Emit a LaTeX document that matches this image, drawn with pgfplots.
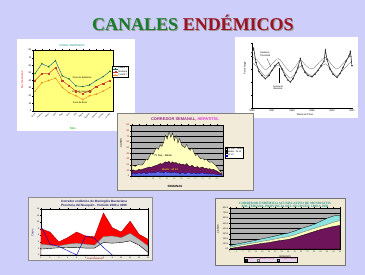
\documentclass[border=0pt]{standalone}
\usepackage{pgfplots}
\pgfplotsset{compat=1.18}
\usepackage{fontspec}
\setmainfont{Liberation Sans}
\newfontfamily\titlefont{Liberation Serif}
\definecolor{bg}{RGB}{206,206,250}
\definecolor{tgreen}{RGB}{25,125,45}
\definecolor{tred}{RGB}{155,20,35}
\definecolor{yel1}{RGB}{255,255,125}
\definecolor{q3}{RGB}{20,90,150}
\definecolor{med}{RGB}{200,60,50}
\definecolor{q1}{RGB}{235,140,30}
\definecolor{beige}{RGB}{242,235,218}
\definecolor{beige2}{RGB}{240,233,212}
\definecolor{p4bg}{RGB}{238,235,228}
\definecolor{plotgray}{RGB}{176,176,176}
\definecolor{pyel}{RGB}{255,255,190}
\definecolor{ppur}{RGB}{110,20,90}
\definecolor{pblue}{RGB}{90,110,225}
\definecolor{pcyan}{RGB}{140,225,225}
\definecolor{navy}{RGB}{30,30,110}
\definecolor{corpur}{RGB}{150,40,140}
\definecolor{hepmag}{RGB}{220,50,220}
\definecolor{tealt}{RGB}{30,150,150}
\newcommand{\fs}[1]{\fontsize{#1}{#1}\selectfont}
\pgfplotsset{mini/.style={scale only axis, anchor=south west,
  /pgf/number format/assume math mode=true,
  tick label style={font=\fs{2.4}, inner sep=0.6pt}, major tick length=1pt,
  every tick/.style={line width=0.2pt, black},
  axis line style={line width=0.3pt},
  tick align=outside}}
\begin{document}
\begin{tikzpicture}
\useasboundingbox (0,0) rectangle (365pt,275pt);
\fill[bg] (0,0) rectangle (365pt,275pt);
% title
\node[font=\titlefont\bfseries\fs{18}, text=black!40] at (193.9pt,251.1pt) {CANALES ENDÉMICOS};
\node[font=\titlefont\bfseries\fs{18}] at (193pt,252pt) {\textcolor{tgreen}{CANALES} \textcolor{tred}{ENDÉMICOS}};

% ---------------- Panel 1
\fill[white] (17pt,144pt) rectangle (135pt,236pt);
\begin{axis}[mini, at={(33pt,164pt)}, width=80pt, height=61pt,
  xmin=0.7, xmax=12.45, ymin=0, ymax=80, ytick={0,10,...,80},
  xtick={1,...,12},
  xticklabels={Enero,Febrero,Marzo,Abril,Mayo,Junio,Julio,Agosto,Septiem.,Octubre,Noviem.,Diciem.},
  x tick label style={rotate=45, anchor=north east, font=\fs{1.9}, inner sep=0.3pt},
  axis background/.style={fill=yel1},
  legend style={at={(0.99,0.73)}, anchor=north west, font=\fs{2.3}, inner sep=0.4pt, row sep=-0.6pt, line width=0.2pt, nodes={inner sep=0.3pt}},
  legend cell align=left,
  legend image code/.code={\draw[mark repeat=2,mark phase=2,#1] plot coordinates {(0pt,0pt) (2.5pt,0pt) (5pt,0pt)};},
  every axis plot/.append style={line width=0.45pt, mark size=0.6pt}]
\addplot[q3, mark=triangle*, mark options={fill=green!70!black, draw=green!50!black}] coordinates {(1,49)(2,62)(3,58)(4,66)(5,46)(6,42)(7,33)(8,32)(9,34)(10,40)(11,45)(12,52)};
\addplot[med, mark=square*, mark options={fill=orange, draw=med}] coordinates {(1,40)(2,49)(3,49)(4,57)(5,40)(6,33)(7,26)(8,23)(9,26)(10,32)(11,36)(12,40)};
\addplot[q1, mark=*, mark options={fill=yellow, draw=q1}] coordinates {(1,26)(2,37)(3,40)(4,43)(5,31)(6,24)(7,20)(8,15)(9,20)(10,22)(11,26)(12,31)};
\legend{Cuartil 3,Mediana,Cuartil 1}
\node[font=\fs{2.3}] at (axis cs:7.9,43) {Zona de Epidemia};
\node[font=\fs{2.3}] at (axis cs:7.9,25) {Zona de Seguridad};
\node[font=\fs{2.3}] at (axis cs:7.6,10.5) {Zona de Éxito};
\end{axis}
\node[font=\fs{2.8}, text=red, rotate=90] at (22pt,195pt) {No. de Casos};
\node[font=\fs{3}, text=green!70!black] at (73pt,147pt) {Mes};
\node[font=\fs{2.8}, text=tealt] at (72pt,230pt) {CANAL ENDÉMICO};

% ---------------- Panel 2
\fill[white] (235pt,157pt) rectangle (358pt,238pt);
\begin{axis}[mini, at={(252pt,167pt)}, width=100pt, height=65pt,
  xmin=0, xmax=5, ymin=0, ymax=10,
  axis x line*=bottom, axis y line*=left,
  ytick={0,2,...,10}, yticklabels={},
  xtick={0,...,5}, xticklabels={1996,1997,1998,1999,2000,2001},
  minor x tick num=3, minor tick length=0.7pt]
\addplot[black!55, line width=0.3pt, smooth] coordinates {(0,8.0)(0.3,7.2)(0.67,5.9)(1.0,6.8)(1.33,7.6)(1.65,6.4)(1.92,5.6)(2.2,6.5)(2.42,7.4)(2.7,6.5)(3.0,6.0)(3.3,6.8)(3.67,7.8)(3.95,6.8)(4.25,6.0)(4.6,7.0)(4.92,8.0)(5,7.8)};
\addplot[black!55, line width=0.3pt, smooth] coordinates {(0,7.0)(0.3,6.2)(0.67,4.9)(1.0,5.8)(1.33,6.6)(1.65,5.4)(1.92,4.6)(2.2,5.5)(2.42,6.4)(2.7,5.5)(3.0,5.0)(3.3,5.8)(3.67,6.8)(3.95,5.8)(4.25,5.0)(4.6,6.0)(4.92,7.0)(5,6.8)};
\addplot[black!80, line width=0.6pt, mark=*, mark size=0.35pt] coordinates {(0,8.5)(0.08,9.2)(0.2,7.0)(0.35,5.6)(0.5,5.0)(0.67,4.5)(0.85,5.0)(1.0,5.8)(1.15,6.5)(1.33,7.0)(1.5,6.0)(1.65,5.0)(1.8,4.3)(1.92,4.0)(2.05,4.5)(2.2,5.5)(2.3,6.3)(2.42,7.6)(2.5,6.5)(2.65,5.5)(2.8,5.0)(3.0,4.8)(3.15,5.2)(3.3,5.8)(3.45,6.5)(3.6,7.2)(3.67,8.9)(3.75,7.5)(3.9,6.0)(4.05,5.2)(4.25,4.7)(4.4,5.3)(4.55,6.2)(4.7,7.2)(4.85,8.0)(4.92,8.7)(5,6.5)};
\draw[line width=0.2pt] (axis cs:0.75,7.6) -- (axis cs:0.95,6.3);
\node[font=\fs{2.3}, align=center] at (axis cs:0.65,8.3) {Epidemic\\Threshold};
\draw[line width=0.2pt] (axis cs:1.35,3.8) -- (axis cs:1.35,6.2);
\node[font=\fs{2.3}, align=center] at (axis cs:1.3,3.1) {Seasonal\\Baseline};
\end{axis}
\node[font=\fs{2.4}, rotate=90] at (245pt,207pt) {Percentage};
\node[font=\fs{2.4}] at (305pt,160pt) {Week and Year};

% ---------------- Panel 3
\fill[beige, draw=black!50, line width=0.4pt] (117pt,85pt) rectangle (253pt,162pt);
\begin{axis}[mini, at={(131pt,99pt)}, width=92pt, height=51pt,
  xmin=0.5, xmax=52.5, ymin=0, ymax=90, ytick={0,10,...,90},
  ymajorgrids, grid style={black, line width=0.25pt},
  axis background/.style={fill=plotgray},
  y tick label style={text=red!80!black},
  xtick={1,5,...,49}, x tick label style={text=green!50!black, font=\fs{2}},
  legend style={at={(1.02,0.57)}, anchor=north west, font=\fs{2.2}, inner sep=0.4pt, row sep=-0.6pt, line width=0.2pt, nodes={inner sep=0.3pt}, fill=white},
  legend cell align=left,
  legend image code/.code={\draw[#1] (0pt,-0.8pt) rectangle (2pt,0.8pt);}]
\addplot[fill=pyel, draw=black, line width=0.25pt] coordinates {(1,20)(2,18)(3,17)(4,19)(5,21)(6,19)(7,20)(8,24)(9,30)(10,28)(11,35)(12,40)(13,38)(14,45)(15,50)(16,47)(17,55)(18,52)(19,60)(20,72)(21,65)(22,78)(23,68)(24,76)(25,62)(26,72)(27,58)(28,66)(29,55)(30,52)(31,50)(32,56)(33,48)(34,45)(35,50)(36,42)(37,36)(38,38)(39,33)(40,30)(41,32)(42,28)(43,30)(44,26)(45,24)(46,25)(47,22)(48,20)(49,16)(50,12)(51,8)(52,5)} \closedcycle;
\addplot[fill=ppur, draw=black, line width=0.25pt] coordinates {(1,10)(2,11)(3,9)(4,10)(5,12)(6,11)(7,12)(8,13)(9,14)(10,15)(11,16)(12,15)(13,17)(14,18)(15,19)(16,20)(17,22)(18,21)(19,23)(20,25)(21,24)(22,26)(23,22)(24,25)(25,23)(26,24)(27,21)(28,22)(29,20)(30,21)(31,19)(32,22)(33,18)(34,17)(35,19)(36,16)(37,15)(38,17)(39,14)(40,15)(41,16)(42,13)(43,14)(44,12)(45,13)(46,11)(47,12)(48,10)(49,9)(50,7)(51,5)(52,4)} \closedcycle;
\addplot[fill=pblue, draw=blue!60!black, line width=0.25pt] coordinates {(1,4)(2,5)(3,3)(4,4)(5,6)(6,4)(7,5)(8,6)(9,4)(10,5)(11,7)(12,5)(13,6)(14,5)(15,7)(16,8)(17,6)(18,7)(19,5)(20,8)(21,6)(22,7)(23,5)(24,6)(25,7)(26,5)(27,6)(28,4)(29,5)(30,6)(31,4)(32,5)(33,7)(34,5)(35,4)(36,6)(37,4)(38,5)(39,4)(40,5)(41,6)(42,4)(43,5)(44,3)(45,4)(46,3)(47,4)(48,3)(49,3)(50,2)(51,2)(52,2)} \closedcycle;
\legend{75 Sup - Media,Media - 25 Inf,25 Inf}
\node[font=\fs{2.6}] at (axis cs:18.6,35) {75 Sup - Media};
\node[font=\fs{2.6}, text=yellow] at (axis cs:22.5,11) {Media - 25 Inf};
\end{axis}
\node[font=\bfseries\fs{4}] at (185pt,155.5pt) {\textcolor{corpur}{CORREDOR SEMANAL,} \textcolor{hepmag}{HEPATITIS.}};
\node[font=\fs{2.6}, rotate=90] at (121pt,132pt) {CASOS};
\node[font=\bfseries\fs{3}] at (175pt,89pt) {SEMANAS};

% ---------------- Panel 4
\fill[p4bg, draw=black!45, line width=0.4pt] (28pt,15pt) rectangle (152pt,78pt);
\begin{axis}[mini, at={(41pt,20pt)}, width=107pt, height=46pt,
  xmin=1, xmax=13, ymin=0, ymax=14, ytick={0,2,...,14}, xtick={1,...,13},
  tick label style={font=\fs{2}},
  axis background/.style={fill=white}]
\addplot[fill=red, draw=red!60!black, line width=0.3pt] coordinates {(1,8.0)(2,7.0)(3,4.0)(4,5.3)(5,7.0)(6,5.8)(7,5.6)(8,12.8)(9,8.3)(10,7.0)(11,10.3)(12,6.3)(13,4.8)} \closedcycle;
\addplot[fill=black!25, draw=black!60, line width=0.3pt] coordinates {(1,3.3)(2,3.0)(3,2.8)(4,3.3)(5,3.6)(6,3.3)(7,3.0)(8,5.6)(9,5.8)(10,5.3)(11,6.6)(12,4.8)(13,2.8)} \closedcycle;
\addplot[fill=white, draw=black, line width=0.4pt] coordinates {(1,1.8)(2,2.0)(3,2.2)(4,2.3)(5,2.3)(6,2.1)(7,2.1)(8,3.8)(9,3.6)(10,3.8)(11,4.3)(12,3.0)(13,0.8)} \closedcycle;
\addplot[blue!70!black, line width=0.4pt] coordinates {(1,8.8)(2,3.3)(3,2.6)(4,1.3)(5,0)(6,5.8)(7,5.1)(8,2.3)(9,0)};
\end{axis}
\node[font=\bfseries\fs{3.1}, text=navy] at (94pt,73.3pt) {Corredor endémico de Meningitis Bacteriana};
\node[font=\bfseries\fs{3.1}, text=navy] at (94pt,69.6pt) {Provincia del Neuquén - Período 1990 a 1996};
\node[font=\fs{2.6}, text=blue!60!black, rotate=90] at (32.5pt,42pt) {Casos};
\node[font=\fs{2.4}, text=red!60!black] at (95pt,16.2pt) {Cuatrisemanas};

% ---------------- Panel 5
\fill[beige2, draw=black!55, line width=0.4pt] (215pt,10pt) rectangle (345pt,77pt);
\begin{axis}[mini, at={(230pt,26pt)}, width=110pt, height=41pt,
  xmin=1, xmax=52, ymin=0, ymax=800, ytick={0,100,...,800},
  yticklabel style={/pgf/number format/.cd, fixed, fixed zerofill, precision=1},
  tick label style={font=\fs{2.1}},
  x tick label style={text=green!40!black},
  ymajorgrids, grid style={black, line width=0.25pt},
  axis background/.style={fill=plotgray},
  xtick={1,4,...,52},
  legend columns=3, reverse legend,
  legend style={at={(0.13,-0.2)}, anchor=north west, font=\fs{2.4}, inner sep=0.5pt, line width=0.3pt, nodes={inner sep=0.4pt, text=magenta!80!black}, fill={rgb,255:red,228;green,214;blue,232}, /tikz/every even column/.append style={column sep=3pt}},
  legend image code/.code={\draw[#1] (0pt,-0.9pt) rectangle (1.8pt,0.9pt);}]
\addplot[fill=pcyan, draw=black, line width=0.3pt] coordinates {(1,70)(4,95)(7,120)(10,145)(13,170)(16,200)(19,225)(22,255)(25,285)(28,310)(31,350)(34,400)(37,440)(40,480)(43,540)(46,600)(49,645)(52,660)} \closedcycle;
\addplot[fill=pyel, draw=black!60, line width=0.3pt] coordinates {(1,35)(4,60)(7,85)(10,105)(13,125)(16,150)(19,170)(22,195)(25,220)(28,240)(31,275)(34,320)(37,360)(40,400)(43,440)(46,480)(49,520)(52,556)} \closedcycle;
\addplot[fill=ppur, draw=black, line width=0.3pt] coordinates {(1,10)(4,30)(7,50)(10,70)(13,90)(16,110)(19,125)(22,150)(25,170)(28,185)(31,220)(34,260)(37,300)(40,340)(43,380)(46,410)(49,440)(52,460)} \closedcycle;
\legend{75 Sup - Media,Media - 25 Inf,25 Inf}
\end{axis}
\node[font=\titlefont\bfseries\fs{3.3}, text=tealt] at (285pt,72pt) {CORREDOR ENDÉMICO ACUMULATIVO DE MENINGITIS};
\node[font=\titlefont\bfseries\fs{3.3}, text=tealt] at (285pt,68.3pt) {BACTERIANA. PROVINCIA DEL NEUQUÉN, 1990 A 1996};
\node[font=\fs{2.4}, rotate=90] at (218pt,46pt) {CASOS};
\node[font=\fs{2.4}] at (285pt,18.5pt) {SEMANAS};
\end{tikzpicture}
\end{document}
